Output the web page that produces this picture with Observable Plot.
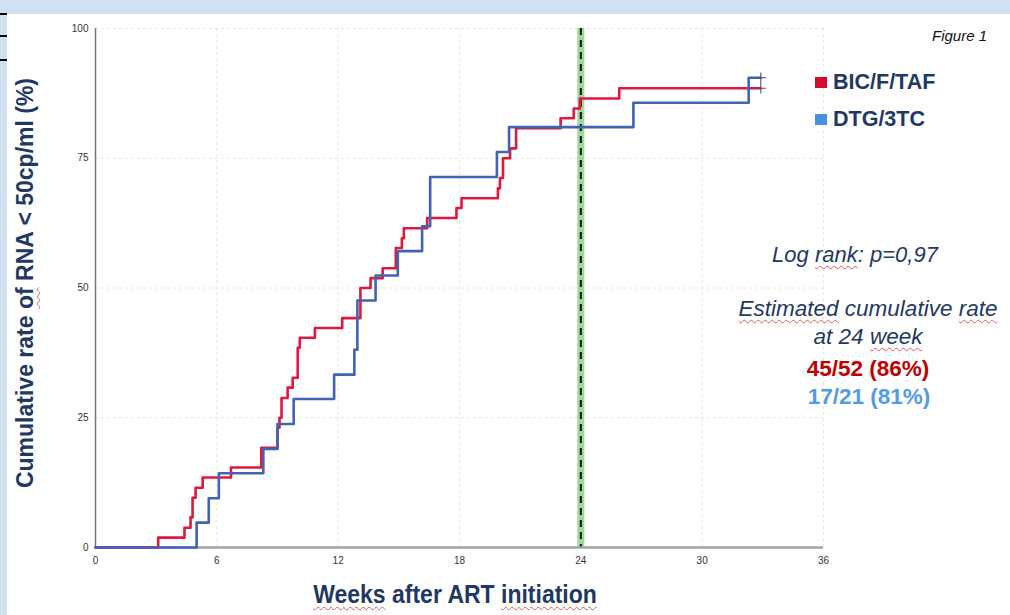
<!DOCTYPE html>
<html><head><meta charset="utf-8">
<script src="https://cdn.jsdelivr.net/npm/d3@7"></script>
<script src="https://cdn.jsdelivr.net/npm/@observablehq/plot@0.6"></script>
<style>
body{margin:0;background:#fff;width:1010px;height:615px;overflow:hidden;position:relative;font-family:"Liberation Sans",Arial,sans-serif;}
#topband{position:absolute;left:0;top:0;width:1010px;height:14px;background:#cfe0f1;}
#leftband{position:absolute;left:0;top:0;width:7px;height:615px;background:#cfe0f1;}
.tk{position:absolute;left:0;width:7px;height:2px;background:#000;}
#chart{position:absolute;left:0;top:0;}
.t{position:absolute;white-space:nowrap;color:#1f3864;line-height:1;}
.sp{text-decoration:underline wavy #e05a5a;text-decoration-thickness:1px;text-underline-offset:3px;}
.sq{position:absolute;width:12px;height:11px;}
</style></head>
<body>
<div id="topband"></div><div id="leftband"></div>
<div class="tk" style="top:13px"></div><div class="tk" style="top:35px"></div><div class="tk" style="top:59px"></div>
<div id="chart"></div>
<script>
// ---- data ----
const seriesNames = ["BIC/F/TAF", "DTG/3TC"];
const bicWeeks = [0,3.1,4.4,4.7,4.8,4.95,5.3,6.7,8.2,9.0,9.1,9.2,9.5,9.75,10.0,10.1,10.85,12.2,13.1,13.6,14.2,14.85,15.15,15.25,16.4,17.85,18.1,19.9,20.0,20.15,20.5,20.8,23.0,23.65,23.95,25.9,32.9];
const bicRate  = [0,1.9,3.8,5.8,9.6,11.5,13.5,15.4,19.2,23.1,25.0,28.8,30.8,32.7,38.5,40.4,42.3,44.2,50.0,51.9,53.8,57.7,59.6,61.5,63.5,65.4,67.3,69.2,71.2,75.0,76.9,80.8,82.7,84.6,86.5,88.5,88.5];
const dtgWeeks = [0,5.0,5.6,6.1,8.3,9.0,9.8,11.8,12.8,12.95,13.85,14.95,16.15,16.55,19.85,20.45,26.6,32.3,32.9];
const dtgRate  = [0,4.8,9.5,14.3,19.0,23.8,28.6,33.3,38.1,47.6,52.4,57.1,61.9,71.4,76.2,81.0,85.7,90.5,90.5];
const xTicks = [0,6,12,18,24,30,36];
const yTicks = [0,25,50,75,100];
const refWeek = [24];
const colors = {"BIC/F/TAF":"#e2163e", "DTG/3TC":"#4262b6"};

const bic = bicWeeks.map((w,i)=>({week:w, rate:bicRate[i], arm:seriesNames[0]}));
const dtg = dtgWeeks.map((w,i)=>({week:w, rate:dtgRate[i], arm:seriesNames[1]}));
const ends = [bic[bic.length-1], dtg[dtg.length-1]];

const chart = Plot.plot({
  width:1010, height:615,
  marginLeft:95, marginRight:187, marginTop:28, marginBottom:68,
  style:{background:"transparent", fontFamily:"'Liberation Sans', Arial, sans-serif", fontSize:"10px", color:"#333", overflow:"visible"},
  x:{domain:[0,36], ticks:xTicks, label:null, tickSize:0, tickPadding:9},
  y:{domain:[0,100], ticks:yTicks, label:null, tickSize:0, tickPadding:7},
  marks:[
    Plot.ruleX(xTicks.slice(1), {stroke:"#eee6d2", strokeWidth:1, strokeDasharray:"3,3"}),
    Plot.ruleY(yTicks.slice(1), {stroke:"#eee6d2", strokeWidth:1, strokeDasharray:"3,3"}),
    Plot.ruleX(refWeek, {stroke:"#86cf86", strokeWidth:7, strokeOpacity:0.8}),
    Plot.ruleX(refWeek, {stroke:"#111", strokeWidth:2, strokeDasharray:"7,5"}),
    Plot.ruleX([0], {stroke:"#777", strokeWidth:1.5}),
    Plot.ruleY([0], {stroke:"#a3a3a3", strokeWidth:2.5}),
    Plot.line(bic, {x:"week", y:"rate", curve:"step-after", stroke:colors["BIC/F/TAF"], strokeWidth:2.6}),
    Plot.line(dtg, {x:"week", y:"rate", curve:"step-after", stroke:colors["DTG/3TC"], strokeWidth:2.6}),
    Plot.dot(ends, {x:"week", y:"rate", symbol:"plus", r:3.5, stroke:"#555", strokeWidth:1.1})
  ]
});
document.getElementById("chart").appendChild(chart);

// ---- text helpers ----
function place(html, x, baseline, size, opts={}) {
  const d = document.createElement("div");
  d.className = "t";
  d.innerHTML = html;
  d.style.fontSize = size + "px";
  d.style.left = x + "px";
  d.style.top = (baseline - 0.8465*size) + "px";
  if (opts.weight) d.style.fontWeight = opts.weight;
  if (opts.italic) d.style.fontStyle = "italic";
  if (opts.color) d.style.color = opts.color;
  let tr = "";
  if (opts.sx) tr += `scaleX(${opts.sx}) `;
  if (opts.anchor === "middle") tr += "translateX(-50%) ";
  d.style.transform = tr;
  d.style.transformOrigin = "0 0";
  document.body.appendChild(d);
  return d;
}
function square(x, y, color){
  const s = document.createElement("div");
  s.className = "sq"; s.style.left = x+"px"; s.style.top = y+"px"; s.style.background = color;
  document.body.appendChild(s);
}

// Figure label
place("Figure 1", 932, 41, 15, {italic:true, color:"#111"});
// Legend
square(815, 77, "#d20c2c");
place(seriesNames[0], 833, 90, 21.5, {weight:"bold"});
square(815, 114, "#4a90e2");
place(seriesNames[1], 833, 127, 21.5, {weight:"bold"});
// Annotations
place('Log <span class="sp">rank</span>: p=0,97', 855, 263, 22, {anchor:"middle", italic:true});
place('<span class="sp">Estimated</span> cumulative <span class="sp">rate</span>', 868, 317, 22.5, {anchor:"middle", italic:true});
place('at 24 <span class="sp">week</span>', 868, 345, 22.5, {anchor:"middle", italic:true});
place('45/52 (86%)', 868, 377, 22.5, {anchor:"middle", weight:"bold", color:"#c00000"});
place('17/21 (81%)', 869, 405, 22.5, {anchor:"middle", weight:"bold", color:"#539be4"});
// Axis titles
place('<span class="sp">Weeks</span> after ART <span class="sp">initiation</span>', 455, 603, 25, {anchor:"middle", weight:"bold", sx:0.92});
const yl = document.createElement("div");
yl.className = "t";
yl.innerHTML = 'Cumulative rate <span class="sp">of</span> RNA &lt; 50cp/ml (%)';
yl.style.fontSize = "23px"; yl.style.fontWeight = "bold";
yl.style.left = "25px"; yl.style.top = "283px";
yl.style.transform = "translate(-50%,-50%) rotate(-90deg)";
document.body.appendChild(yl);
</script>
</body></html>
